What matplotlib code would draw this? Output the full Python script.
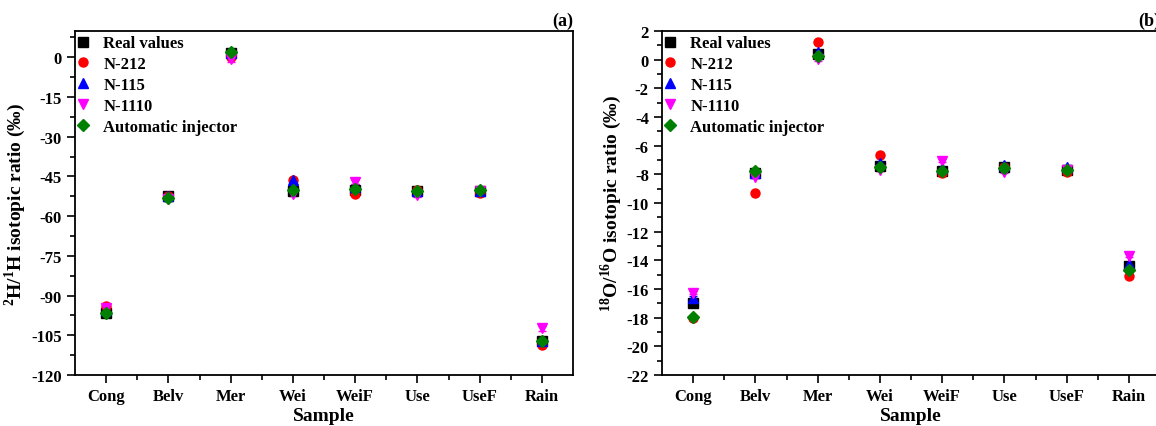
import matplotlib
matplotlib.use('Agg')
import matplotlib.pyplot as plt
import numpy as np

plt.rcParams['font.family'] = ['Liberation Serif', 'DejaVu Serif']
plt.rcParams['font.weight'] = 'bold'
plt.rcParams['axes.unicode_minus'] = False
plt.rcParams['mathtext.fontset'] = 'custom'
plt.rcParams['mathtext.rm'] = 'Liberation Serif:bold'
plt.rcParams['mathtext.bf'] = 'Liberation Serif:bold'

samples = ['Cong', 'Belv', 'Mer', 'Wei', 'WeiF', 'Use', 'UseF', 'Rain']
series = ['Real values', 'N-212', 'N-115', 'N-1110', 'Automatic injector']
colors = ['black', 'red', 'blue', 'magenta', 'green']
markers = ['s', 'o', '^', 'v', 'D']

# (a) 2H/1H isotopic ratio
h_real = [-96.5, -52.5, 1.5, -50.5, -50.0, -50.5, -50.5, -107.0]
h_n212 = [-94.0, -52.5, 0.2, -46.5, -51.5, -50.0, -51.2, -108.7]
h_n115 = [-95.5, -52.5, 1.5, -46.5, -48.8, -50.5, -50.5, -107.0]
h_n1110 = [-94.5, -53.5, -0.8, -51.5, -47.2, -52.0, -50.5, -102.4]
h_auto = [-96.5, -53.0, 2.0, -50.3, -49.9, -50.5, -50.0, -107.1]
h_err = [0.8, 0.8, 0.8, 0.8, 0.8, 0.8, 0.8, 0.8]

# (b) 18O/16O isotopic ratio
o_real = [-17.0, -7.93, 0.4, -7.45, -7.8, -7.47, -7.7, -14.4]
o_n212 = [-18.05, -9.3, 1.23, -6.65, -7.93, -7.5, -7.86, -15.07]
o_n115 = [-16.6, -7.9, 0.56, -7.23, -7.58, -7.35, -7.47, -14.28]
o_n1110 = [-16.26, -8.16, 0.02, -7.7, -7.07, -7.81, -7.7, -13.67]
o_auto = [-17.95, -7.8, 0.28, -7.47, -7.77, -7.53, -7.7, -14.7]
o_err = [0.1, 0.1, 0.1, 0.1, 0.1, 0.1, 0.1, 0.1]
o_err_real = [0.28, 0.1, 0.25, 0.1, 0.1, 0.1, 0.1, 0.1]

x = np.arange(1, len(samples) + 1)

fig = plt.figure(figsize=(11.56, 4.27), dpi=100)
ax1 = fig.add_axes([0.0649, 0.1194, 0.4308, 0.806])
ax2 = fig.add_axes([0.5727, 0.1194, 0.4308, 0.806])


def draw(ax, data, errs):
    handles = []
    for vals, err, lab, c, m in zip(data, errs, series, colors, markers):
        eb = ax.errorbar(x, vals, yerr=err, fmt=m, color=c, ecolor=c, ms=6.5 if m != 'D' else 6,
                         capsize=3, elinewidth=1, capthick=1, label=lab)
        handles.append(eb[0])
    ax.set_xlim(0.5, 8.5)
    ax.set_xticks(x)
    ax.set_xticks(np.arange(1.5, 8.5, 1), minor=True)
    ax.set_xticklabels(samples)
    ax.set_xlabel('Sample', fontsize=14, fontweight='bold', labelpad=2)
    ax.tick_params(which='major', direction='out', length=6, width=1.2, labelsize=12, top=False, right=False)
    ax.tick_params(which='minor', direction='out', length=3.5, width=1.2, top=False, right=False)
    for sp in ax.spines.values():
        sp.set_linewidth(1.3)
    leg = ax.legend(handles, series, loc='upper left', bbox_to_anchor=(-0.01, 1.006), frameon=False,
                    fontsize=12, labelspacing=0.29, handletextpad=0.8, handlelength=0.8,
                    borderaxespad=0.0)
    for t in leg.get_texts():
        t.set_fontweight('bold')


draw(ax1, [h_real, h_n212, h_n115, h_n1110, h_auto], [h_err] * 5)
ax1.set_ylim(-120, 10)
ax1.set_yticks(np.arange(-120, 1, 15))
ax1.set_yticks(np.arange(-112.5, 10, 15), minor=True)
ax1.set_ylabel(r'$^{2}$H/$^{1}$H isotopic ratio (‰)', fontsize=14, fontweight='bold', labelpad=2)
ax1.text(1.0, 1.005, '(a)', transform=ax1.transAxes, ha='right', va='bottom', fontsize=13, fontweight='bold')

draw(ax2, [o_real, o_n212, o_n115, o_n1110, o_auto], [o_err_real] + [o_err] * 4)
ax2.set_ylim(-22, 2)
ax2.set_yticks(np.arange(-22, 3, 2))
ax2.set_yticks(np.arange(-21, 2, 2), minor=True)
ax2.set_ylabel(r'$^{18}$O/$^{16}$O isotopic ratio (‰)', fontsize=14, fontweight='bold', labelpad=2)
ax2.text(1.0, 1.005, '(b)', transform=ax2.transAxes, ha='right', va='bottom', fontsize=13, fontweight='bold')

fig.savefig('out.png', dpi=100)
